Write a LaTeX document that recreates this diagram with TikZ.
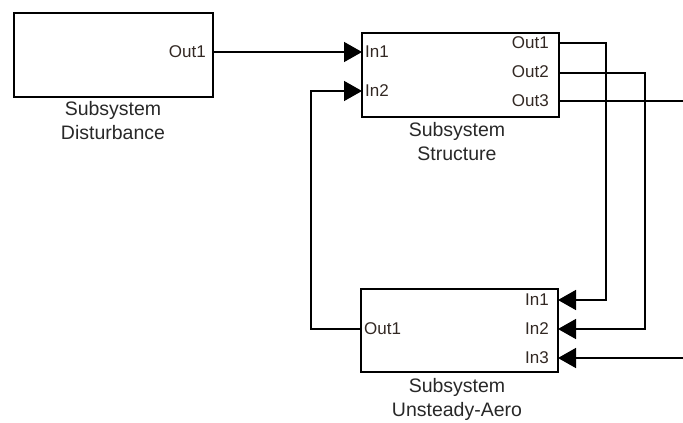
\documentclass[tikz,border=0pt]{standalone}
\usepackage{fontspec}
\setmainfont{Liberation Sans}
\usetikzlibrary{arrows.meta}
\definecolor{porttxt}{RGB}{50,40,35}
\definecolor{labtxt}{RGB}{40,40,40}
\begin{document}
\begin{tikzpicture}[x=1pt,y=-1pt,
  blk/.style={draw, line width=1.5pt, inner sep=0pt},
  port/.style={text=porttxt, font=\fontsize{17}{18}\selectfont, inner sep=0pt},
  lab/.style={text=labtxt, font=\fontsize{19.5}{24}\selectfont, align=center, inner sep=0pt},
  wire/.style={line width=1.5pt},
  arr/.style={line width=1.5pt, -{Triangle[length=18pt,width=20pt]}}]
\useasboundingbox (0,0) rectangle (683,423);
% blocks
\node[blk, minimum width=199pt, minimum height=84pt] (dist) at (113.5,55) {};
\node[blk, minimum width=197pt, minimum height=84pt] (str) at (460.5,75) {};
\node[blk, minimum width=197pt, minimum height=83pt] (aero) at (459.5,330.5) {};
% block labels
\node[lab, anchor=north] (ldist) at (113,101) {Subsystem\\Disturbance};
\node[lab, anchor=north] (lstr) at (457,122) {Subsystem\\Structure};
\node[lab, anchor=north] (laero) at (457,378) {Subsystem\\Unsteady-Aero};
% port anchors
\coordinate (dOut1) at (213,52);
\coordinate (sIn1) at (362,52);
\coordinate (sIn2) at (362,91);
\coordinate (sOut1) at (559,43);
\coordinate (sOut2) at (559,73);
\coordinate (sOut3) at (559,101);
\coordinate (aIn1) at (558,300);
\coordinate (aIn2) at (558,329);
\coordinate (aIn3) at (558,358);
\coordinate (aOut1) at (361,329);
\coordinate (edge3) at (683,101);
\coordinate (edge3b) at (683,358);
% port labels
\node[port, anchor=east] (tdOut1) at (206,52) {Out1};
\node[port, anchor=west] (tsIn1) at (365,52) {In1};
\node[port, anchor=west] (tsIn2) at (365,91) {In2};
\node[port, anchor=east] (tsOut1) at (549,43) {Out1};
\node[port, anchor=east] (tsOut2) at (549,72) {Out2};
\node[port, anchor=east] (tsOut3) at (549,101) {Out3};
\node[port, anchor=east] (taIn1) at (549,300) {In1};
\node[port, anchor=east] (taIn2) at (549,329) {In2};
\node[port, anchor=east] (taIn3) at (549,358) {In3};
\node[port, anchor=west] (taOut1) at (364,329) {Out1};
% connectors
\draw[arr] (dOut1) -- (sIn1);
\draw[arr] (aOut1) -- (311,329) -- (311,91) -- (sIn2);
\draw[arr] (sOut1) -- (606,43) -- (606,300) -- (aIn1);
\draw[arr] (sOut2) -- (645,73) -- (645,329) -- (aIn2);
\draw[wire] (sOut3) -- (edge3);
\draw[arr] (edge3b) -- (aIn3);
\end{tikzpicture}
\end{document}
